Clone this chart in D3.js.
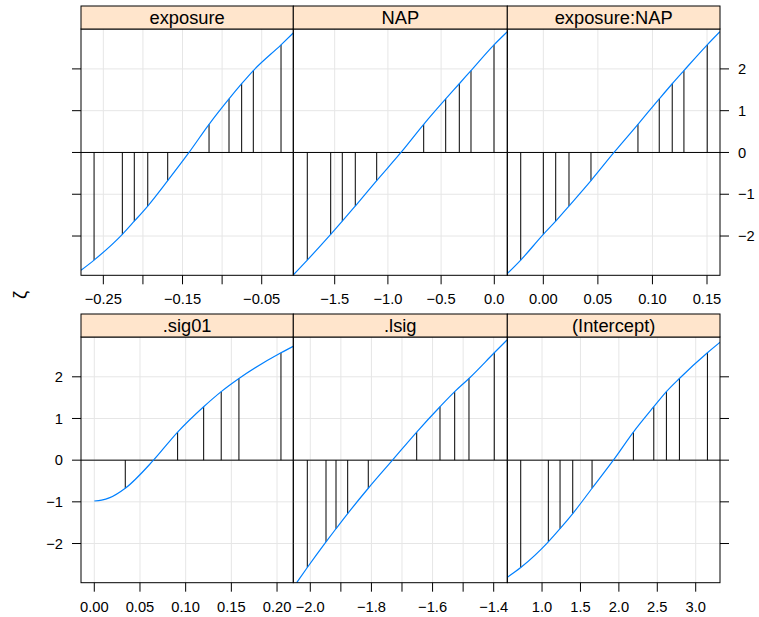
<!DOCTYPE html>
<html>
<head>
<meta charset="utf-8">
<script src="https://cdn.jsdelivr.net/npm/d3@7"></script>
<style>
  body { margin: 0; background: #fff; }
  svg text { font-family: "Liberation Sans", Arial, Helvetica, sans-serif; fill: #000; }
</style>
</head>
<body>
<div id="chart"></div>
<script>
// panel titles (strip labels), row-major from top-left
const panelNames = ["exposure", "NAP", "exposure:NAP", ".sig01", ".lsig", "(Intercept)"];

// zeta levels where the vertical segments are drawn
const zetaLevels = [-2.576, -1.960, -1.645, -1.282, -0.674, 0.674, 1.282, 1.645, 1.960, 2.576];

// profile curves: parameter value and zeta
const exposureX = [-0.2782, -0.2617, -0.2260, -0.2109, -0.1939, -0.1687, -0.1418, -0.1165, -0.0913, -0.0753, -0.0606, -0.0256, -0.0101];
const exposureZ = [-2.82, -2.576, -1.960, -1.645, -1.282, -0.674, 0, 0.674, 1.282, 1.645, 1.960, 2.576, 2.86];

const napX = [-1.889, -1.7575, -1.5376, -1.4286, -1.3064, -1.1053, -0.8769, -0.6635, -0.4568, -0.3289, -0.2190, -0.0028, 0.1222];
const napZ = [-2.93, -2.576, -1.960, -1.645, -1.282, -0.674, 0, 0.674, 1.282, 1.645, 1.960, 2.576, 2.89];

const interX = [-0.0330, -0.0207, 0.0000, 0.01136, 0.02353, 0.04368, 0.06474, 0.08672, 0.10623, 0.11813, 0.12885, 0.15018, 0.1618];
const interZ = [-2.90, -2.576, -1.960, -1.645, -1.282, -0.674, 0, 0.674, 1.282, 1.645, 1.960, 2.576, 2.89];

const sig01X = [0, 0.008, 0.017, 0.0339, 0.0648, 0.0912, 0.1197, 0.1389, 0.1583, 0.2043, 0.2177];
const sig01Z = [-0.98, -0.96, -0.90, -0.674, 0, 0.674, 1.282, 1.645, 1.960, 2.576, 2.73];

const lsigX = [-2.0445, -2.0098, -1.9486, -1.9159, -1.8777, -1.8103, -1.7311, -1.6519, -1.5757, -1.5276, -1.4809, -1.3981, -1.3556];
const lsigZ = [-2.94, -2.576, -1.960, -1.645, -1.282, -0.674, 0, 0.674, 1.282, 1.645, 1.960, 2.576, 2.89];

const interceptX = [0.548, 0.7227, 1.0820, 1.2344, 1.3997, 1.6510, 1.9284, 2.1888, 2.4544, 2.6185, 2.7878, 3.1523, 3.3177];
const interceptZ = [-2.81, -2.576, -1.960, -1.645, -1.282, -0.674, 0, 0.674, 1.282, 1.645, 1.960, 2.576, 2.83];

// x limits of each panel (relation = "free")
const xDomains = [[-0.2782, -0.0101], [-1.889, 0.1222], [-0.0330, 0.1619], [-0.01455, 0.2178], [-2.0556, -1.3555], [0.548, 3.316]];

// x ticks and the ones that carry labels
const xTicks = [
  [-0.25, -0.20, -0.15, -0.10, -0.05],
  [-1.5, -1.0, -0.5, 0.0],
  [0.00, 0.05, 0.10, 0.15],
  [0.00, 0.05, 0.10, 0.15, 0.20],
  [-2.0, -1.9, -1.8, -1.7, -1.6, -1.5, -1.4],
  [1.0, 1.5, 2.0, 2.5, 3.0]
];
const xLabels = [
  ["−0.25", "", "−0.15", "", "−0.05"],
  ["−1.5", "−1.0", "−0.5", "0.0"],
  ["0.00", "0.05", "0.10", "0.15"],
  ["0.00", "0.05", "0.10", "0.15", "0.20"],
  ["−2.0", "", "−1.8", "", "−1.6", "", "−1.4"],
  ["1.0", "1.5", "2.0", "2.5", "3.0"]
];

const yDomain = [-2.94, 2.955];
const yTicks = [-2, -1, 0, 1, 2];
const yLabels = ["−2", "−1", "0", "1", "2"];

function draw(){
  var width = 759, height = 617;
  var colEdges = [81, 293.3, 507.3, 720];
  var stripTop = [6, 314];
  var stripH = 23;
  var panelBottom = [275.3, 582.7];

  var curvesX = [exposureX, napX, interX, sig01X, lsigX, interceptX];
  var curvesZ = [exposureZ, napZ, interZ, sig01Z, lsigZ, interceptZ];

  var svg = d3.select("#chart")
    .append("svg")
    .attr("width", width)
    .attr("height", height);

  var defs = svg.append("defs");

  panelNames.forEach(function(name, i){
    var row = Math.floor(i / 3), col = i % 3;
    var x0 = colEdges[col], x1 = colEdges[col + 1];
    var top = stripTop[row] + stripH, bottom = panelBottom[row];

    var x = d3.scaleLinear().domain(xDomains[i]).range([x0, x1]);
    var y = d3.scaleLinear().domain(yDomain).range([bottom, top]);

    var g = svg.append("g");

    // grid
    g.selectAll(".vg").data(xTicks[i]).enter().append("line")
      .attr("x1", d => x(d)).attr("x2", d => x(d))
      .attr("y1", top).attr("y2", bottom)
      .style("stroke", "#e6e6e6").style("stroke-width", 1);
    g.selectAll(".hg").data(yTicks).enter().append("line")
      .attr("x1", x0).attr("x2", x1)
      .attr("y1", d => y(d)).attr("y2", d => y(d))
      .style("stroke", "#e6e6e6").style("stroke-width", 1);

    // clip for the panel contents
    defs.append("clipPath").attr("id", "clip" + i)
      .append("rect").attr("x", x0).attr("y", top).attr("width", x1 - x0).attr("height", bottom - top);

    var inner = g.append("g").attr("clip-path", "url(#clip" + i + ")");

    // zero line
    inner.append("line")
      .attr("x1", x0).attr("x2", x1)
      .attr("y1", y(0)).attr("y2", y(0))
      .style("stroke", "#000").style("stroke-width", 1);

    var pts = curvesX[i].map((v, k) => [v, curvesZ[i][k]]);
    var segs = pts.filter(p => zetaLevels.some(l => Math.abs(l - p[1]) < 1e-6));

    inner.selectAll(".seg").data(segs).enter().append("line")
      .attr("x1", d => x(d[0])).attr("x2", d => x(d[0]))
      .attr("y1", y(0)).attr("y2", d => y(d[1]))
      .style("stroke", "#000").style("stroke-width", 1);

    var line = d3.line()
      .x(d => x(d[0])).y(d => y(d[1]))
      .curve(d3.curveMonotoneX);

    inner.append("path")
      .attr("d", line(pts))
      .style("fill", "none")
      .style("stroke", "#0080ff")
      .style("stroke-width", 1.2);

    // panel border
    g.append("rect")
      .attr("x", x0).attr("y", top).attr("width", x1 - x0).attr("height", bottom - top)
      .style("fill", "none").style("stroke", "#000").style("stroke-width", 1);

    // strip
    g.append("rect")
      .attr("x", x0).attr("y", stripTop[row]).attr("width", x1 - x0).attr("height", stripH)
      .style("fill", "#ffe5cc").style("stroke", "#000").style("stroke-width", 1);
    g.append("text")
      .attr("x", (x0 + x1) / 2).attr("y", stripTop[row] + stripH / 2)
      .attr("dy", "0.36em")
      .attr("text-anchor", "middle")
      .style("font-size", "18.3px")
      .text(name);

    // x axis below each panel
    var xa = g.append("g");
    xa.selectAll("line").data(xTicks[i]).enter().append("line")
      .attr("x1", d => x(d)).attr("x2", d => x(d))
      .attr("y1", bottom).attr("y2", bottom + 9)
      .style("stroke", "#000").style("stroke-width", 1);
    xa.selectAll("text").data(xTicks[i]).enter().append("text")
      .attr("x", d => x(d)).attr("y", bottom + 24)
      .attr("dy", "0.35em")
      .attr("text-anchor", "middle")
      .style("font-size", "14.7px")
      .text((d, k) => xLabels[i][k]);

    // y ticks: left on first column, right on last column
    if (col === 0){
      g.selectAll(".yl").data(yTicks).enter().append("line")
        .attr("x1", x0 - 9).attr("x2", x0)
        .attr("y1", d => y(d)).attr("y2", d => y(d))
        .style("stroke", "#000").style("stroke-width", 1);
      if (row === 1){
        g.selectAll(".ylt").data(yTicks).enter().append("text")
          .attr("x", x0 - 18).attr("y", d => y(d))
          .attr("dy", "0.35em")
          .attr("text-anchor", "end")
          .style("font-size", "14.7px")
          .text((d, k) => yLabels[k]);
      }
    }
    if (col === 2){
      g.selectAll(".yr").data(yTicks).enter().append("line")
        .attr("x1", x1).attr("x2", x1 + 9)
        .attr("y1", d => y(d)).attr("y2", d => y(d))
        .style("stroke", "#000").style("stroke-width", 1);
      if (row === 0){
        g.selectAll(".yrt").data(yTicks).enter().append("text")
          .attr("x", x1 + 18).attr("y", d => y(d))
          .attr("dy", "0.35em")
          .attr("text-anchor", "start")
          .style("font-size", "14.7px")
          .text((d, k) => yLabels[k]);
      }
    }
  });

  // y axis title
  svg.append("text")
    .attr("transform", "translate(20,295) rotate(-90)")
    .attr("dy", "0.35em")
    .attr("text-anchor", "middle")
    .style("font-size", "18.3px")
    .text("ζ");
}

draw();
</script>
</body>
</html>
